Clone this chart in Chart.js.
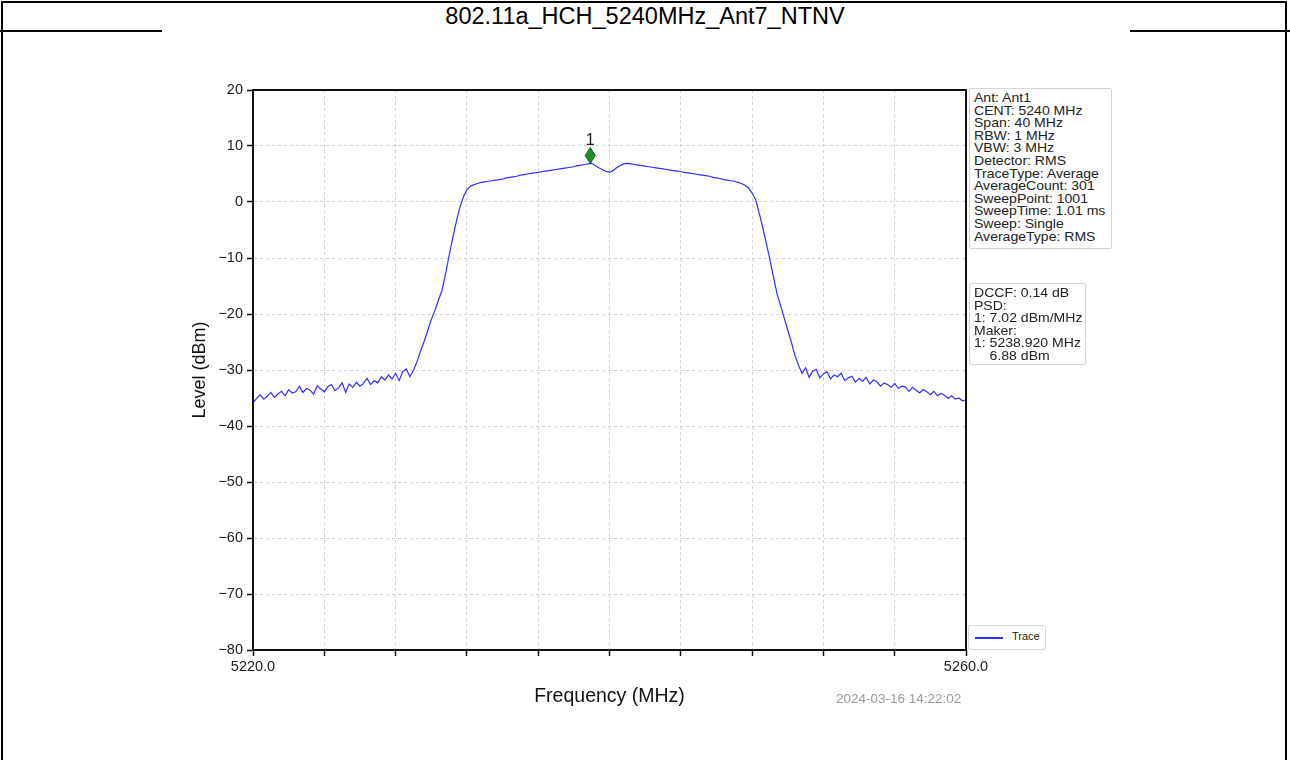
<!DOCTYPE html>
<html lang="en">
<head>
    <meta charset="UTF-8">
    <title>802.11a_HCH_5240MHz_Ant7_NTNV</title>
    <script src="https://cdn.jsdelivr.net/npm/chart.js"></script>
    <style>
        body { margin: 0; background: #fff; font-family: 'Liberation Sans', Arial, sans-serif; }
        #page { position: relative; width: 1290px; height: 760px; overflow: hidden; }
        #frame { position: absolute; left: 1px; top: 1px; width: 1286px; height: 800px; border: 2px solid #000; box-sizing: border-box; }
        #title { position: absolute; left: 0; top: 0; width: 1290px; height: 31px; line-height: 33px; text-align: center; font-size: 23.5px; color: #000; }
        .titleLine { position: absolute; top: 30px; height: 2px; background: #000; }
        #plot { position: absolute; left: 160px; top: 32px; width: 970px; height: 728px; background: #fff; }
        .box { position: absolute; background: #fff; border: 1px solid #d4d4d4; border-radius: 2px; color: #222; }
        .box .txt { position: absolute; left: 4px; top: 3px; font-size: 13px; line-height: 12.6px; white-space: pre; transform: scaleX(1.08); transform-origin: left top; }
        #legend { position: absolute; left: 968px; top: 625px; width: 76px; height: 23px; border: 1px solid #d8d8d8; border-radius: 3px; background: #fff; }
        #legend .swatch { position: absolute; left: 6px; top: 11px; width: 28px; height: 2px; background: #3030ff; }
        #legend .lbl { position: absolute; left: 43px; top: 4px; font-size: 11px; color: #222; }
        #stamp { position: absolute; left: 836px; top: 692px; font-size: 12.5px; color: #9a9a9a; transform: scaleX(1.08); transform-origin: left top; }
    </style>
</head>
<body>
<div id="page">
    <div id="frame"></div>
    <div id="title">802.11a_HCH_5240MHz_Ant7_NTNV</div>
    <div class="titleLine" style="left:0; width:162px;"></div>
    <div class="titleLine" style="left:1130px; width:160px;"></div>
    <div id="plot"><canvas id="chartCanvas" width="970" height="728"></canvas></div>
    <div class="box" style="left:969px; top:88px; width:141px; height:159px;"><div class="txt" id="info1"></div></div>
    <div class="box" style="left:969px; top:283px; width:115px; height:80px;"><div class="txt" id="info2"></div></div>
    <div id="legend"><div class="swatch"></div><div class="lbl">Trace</div></div>
    <div id="stamp">2024-03-16 14:22:02</div>
</div>

<script>
    // sweep: 5220 .. 5260 MHz, one reading every 0.2 MHz
    const startMHz = 5220;
    const stepMHz = 0.2;
    const levels = [
        -35.8, -35.1, -34.4, -35.2, -34.7, -34.0, -34.9, -34.3, -33.8, -34.6,
        -33.5, -34.1, -33.9, -32.9, -34.0, -33.3, -33.6, -34.3, -32.8, -33.4,
        -33.9, -33.0, -32.6, -33.7, -33.2, -32.3, -34.0, -32.5, -33.1, -32.2,
        -32.9, -32.4, -31.5, -32.6, -31.9, -32.3, -31.2, -31.8, -30.9, -31.6,
        -30.6, -31.9, -30.3, -29.8, -31.2, -30.1, -28.5, -26.6, -24.9, -23.0,
        -21.0, -19.4, -17.6, -15.8, -12.9, -9.6, -6.5, -3.6, -1.0, 0.9,
        2.2, 2.8, 3.1, 3.3, 3.5, 3.6, 3.7, 3.8, 3.9, 4.0,
        4.1, 4.3, 4.4, 4.5, 4.6, 4.8, 4.9, 5.0, 5.1, 5.2,
        5.3, 5.4, 5.5, 5.6, 5.7, 5.8, 5.9, 6.0, 6.1, 6.2,
        6.3, 6.5, 6.6, 6.7, 6.8, 6.9, 6.5, 6.1, 5.8, 5.5,
        5.3, 5.6, 6.1, 6.5, 6.8, 6.9, 6.8, 6.7, 6.6, 6.5,
        6.4, 6.3, 6.2, 6.1, 6.0, 5.9, 5.8, 5.7, 5.6, 5.5,
        5.4, 5.3, 5.2, 5.1, 5.0, 4.9, 4.8, 4.7, 4.6, 4.4,
        4.3, 4.2, 4.0, 3.9, 3.8, 3.7, 3.5, 3.3, 3.0, 2.5,
        1.6, 0.4, -2.0, -4.6, -7.4, -10.3, -13.4, -16.4, -18.5, -20.7,
        -22.9, -25.0, -27.4, -29.1, -30.6, -29.6, -31.3, -30.2, -29.9, -31.4,
        -30.7, -30.3, -31.6, -30.9, -31.2, -30.6, -31.9, -31.4, -31.1, -32.2,
        -31.5, -32.0, -31.3, -32.5, -31.8, -32.1, -32.9, -32.3, -32.6, -33.1,
        -32.4, -33.3, -32.9, -33.0, -33.8, -33.1, -33.6, -34.1, -33.5, -33.9,
        -34.4, -33.8, -34.6, -34.2, -34.5, -35.1, -34.6, -35.2, -35.0, -35.5,
        -35.4
    ];

    const markerFreq = 5238.92;
    const markerLevel = 6.88;
    const markerName = '1';

    const xTicks = [5220, 5224, 5228, 5232, 5236, 5240, 5244, 5248, 5252, 5256, 5260];
    const xTickLabels = { 5220: '5220.0', 5260: '5260.0' };
    const yTicks = [20, 10, 0, -10, -20, -30, -40, -50, -60, -70, -80];

    const infoLines = [
        'Ant: Ant1', 'CENT: 5240 MHz', 'Span: 40 MHz', 'RBW: 1 MHz', 'VBW: 3 MHz',
        'Detector: RMS', 'TraceType: Average', 'AverageCount: 301', 'SweepPoint: 1001',
        'SweepTime: 1.01 ms', 'Sweep: Single', 'AverageType: RMS'
    ];
    const resultLines = [
        'DCCF: 0.14 dB', 'PSD:', '1: 7.02 dBm/MHz', 'Maker:', '1: 5238.920 MHz', '    6.88 dBm'
    ];

    document.getElementById('info1').textContent = infoLines.join('\n');
    document.getElementById('info2').textContent = resultLines.join('\n');

    const trace = levels.map((v, i) => ({ x: startMHz + i * stepMHz, y: v }));

    const font = "'Liberation Sans', Arial, sans-serif";

    // box round the plot + the marker diamond with its number
    const extras = {
        id: 'extras',
        afterDraw(chart) {
            const ctx = chart.ctx;
            const a = chart.chartArea;
            const xs = chart.scales.x, ys = chart.scales.y;
            ctx.save();
            const px = xs.getPixelForValue(markerFreq);
            const py = ys.getPixelForValue(markerLevel) - 8;
            ctx.beginPath();
            ctx.moveTo(px, py - 8);
            ctx.lineTo(px + 5, py);
            ctx.lineTo(px, py + 8);
            ctx.lineTo(px - 5, py);
            ctx.closePath();
            ctx.fillStyle = '#1f8f2a';
            ctx.fill();
            ctx.strokeStyle = '#0d5e14';
            ctx.lineWidth = 1;
            ctx.stroke();
            ctx.fillStyle = '#222';
            ctx.font = '16px ' + font;
            ctx.textAlign = 'center';
            ctx.textBaseline = 'bottom';
            ctx.fillText(markerName, px, py - 7);

            ctx.strokeStyle = '#111';
            ctx.lineWidth = 2;
            ctx.strokeRect(a.left, a.top, a.right - a.left, a.bottom - a.top);
            ctx.restore();
        }
    };

    new Chart(document.getElementById('chartCanvas').getContext('2d'), {
        type: 'line',
        data: {
            datasets: [{
                label: 'Trace',
                data: trace,
                borderColor: '#3030ff',
                borderWidth: 1.2,
                pointRadius: 0,
                fill: false,
                tension: 0
            }]
        },
        options: {
            responsive: false,
            animation: false,
            layout: { padding: { left: 25, right: 164, top: 58, bottom: 50 } },
            plugins: {
                legend: { display: false },
                tooltip: { enabled: false }
            },
            scales: {
                x: {
                    type: 'linear',
                    min: 5220,
                    max: 5260,
                    afterBuildTicks(scale) { scale.ticks = xTicks.map(v => ({ value: v })); },
                    afterFit(scale) { scale.height = 60; },
                    ticks: {
                        autoSkip: false,
                        maxRotation: 0,
                        padding: 2,
                        color: '#222',
                        font: { family: font, size: 14.5 },
                        callback: v => xTickLabels[v] || ''
                    },
                    grid: { color: '#d2d2d2', lineWidth: 1, tickColor: '#111', tickLength: 6, tickWidth: 1.5 },
                    border: { color: '#111', width: 2, dash: [3, 3] },
                    title: {
                        display: true,
                        text: 'Frequency (MHz)',
                        color: '#111',
                        font: { family: font, size: 19.5 },
                        padding: { top: 0, bottom: 2 }
                    }
                },
                y: {
                    min: -80,
                    max: 20,
                    afterBuildTicks(scale) { scale.ticks = yTicks.map(v => ({ value: v })); },
                    afterFit(scale) { scale.width = 68; },
                    ticks: {
                        padding: 4,
                        color: '#222',
                        font: { family: font, size: 14.5 },
                        callback: v => (v < 0 ? '\u2212' + Math.abs(v) : String(v))
                    },
                    grid: { color: '#d2d2d2', lineWidth: 1, tickColor: '#111', tickLength: 6, tickWidth: 1.5 },
                    border: { color: '#111', width: 2, dash: [3, 3] },
                    title: {
                        display: true,
                        text: 'Level (dBm)',
                        color: '#111',
                        font: { family: font, size: 18 },
                        padding: { top: 4, bottom: 0 }
                    }
                }
            }
        },
        plugins: [extras]
    });
</script>
</body>
</html>
